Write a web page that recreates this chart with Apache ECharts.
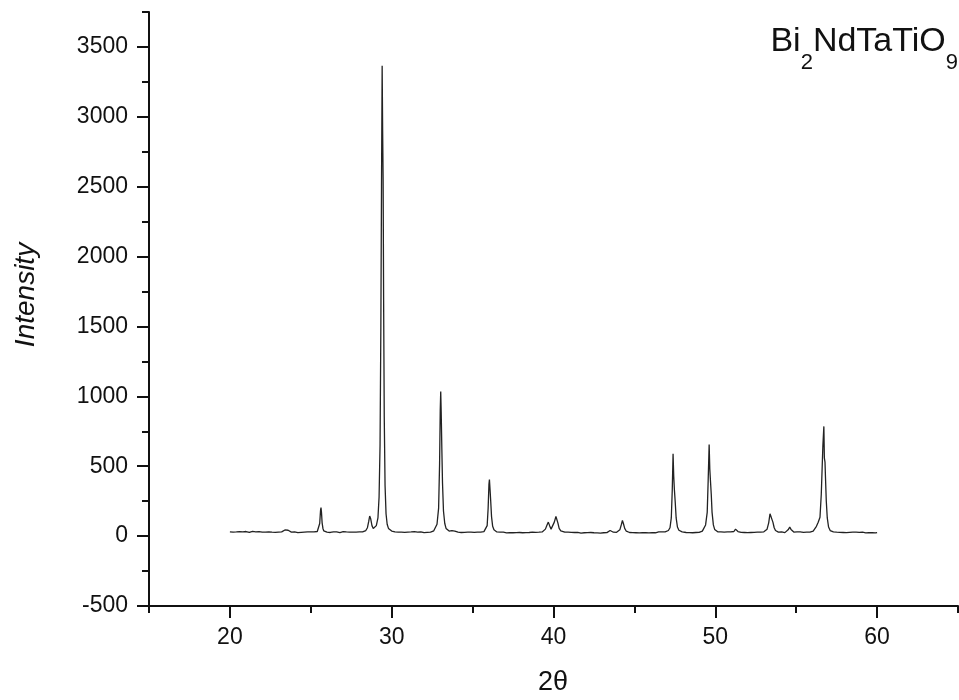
<!DOCTYPE html>
<html>
<head>
<meta charset="utf-8">
<script src="https://cdn.jsdelivr.net/npm/echarts@6/dist/echarts.min.js"></script>
<style>
html,body{margin:0;padding:0;background:#fff;}
#chart{width:959px;height:700px;}
</style>
</head>
<body>
<div id="chart"></div>
<script>
// ---- data ----
const xTickValues = [20, 30, 40, 50, 60];
const yTickValues = [-500, 0, 500, 1000, 1500, 2000, 2500, 3000, 3500];
const xAxisTitle = '2θ';
const yAxisTitle = 'Intensity';
const sampleName = ['Bi', '2', 'NdTaTiO', '9'];

// XRD scan: [2θ, intensity]
const scan = [
  [20.0,31],[20.1,34],[20.2,29],[20.3,33],[20.4,30],[20.5,27],[20.6,32],[20.7,35],[20.8,30],[20.9,28],
  [21.0,33],[21.1,31],[21.2,26],[21.3,30],[21.4,34],[21.5,29],[21.6,31],[21.7,27],[21.8,32],[21.9,30],
  [22.0,28],[22.1,33],[22.2,29],[22.3,26],[22.4,31],[22.5,34],[22.6,28],[22.7,30],[22.8,27],[22.9,31],
  [23.0,29],[23.1,33],[23.2,30],[23.3,35],[23.4,44],[23.5,57],[23.6,42],[23.7,32],[23.8,29],[23.9,27],
  [24.0,31],[24.1,28],[24.2,25],[24.3,30],[24.4,27],[24.5,32],[24.6,29],[24.7,26],[24.8,30],[24.9,28],
  [25.0,31],[25.1,27],[25.2,30],[25.3,29],[25.4,33],[25.5,45],[25.55,90],[25.6,180],[25.63,205],[25.66,170],
  [25.7,95],[25.75,55],[25.8,38],[25.9,31],
  [26.0,28],[26.1,30],[26.2,26],[26.3,29],[26.4,31],[26.5,27],[26.6,30],[26.7,28],[26.8,25],[26.9,29],
  [27.0,32],[27.1,27],[27.2,30],[27.3,26],[27.4,29],[27.5,31],[27.6,28],[27.7,33],[27.8,29],[27.9,31],
  [28.0,30],[28.1,34],[28.2,31],[28.3,36],[28.4,40],[28.5,60],[28.58,105],[28.64,144],[28.7,125],[28.78,75],
  [28.86,54],[28.95,58],[29.05,75],[29.15,130],[29.22,280],[29.28,650],[29.33,1500],[29.37,2500],[29.41,3365],[29.44,2900],
  [29.47,2550],[29.5,1700],[29.54,850],[29.59,360],[29.65,160],[29.72,85],[29.8,55],[29.9,42],
  [30.0,36],[30.1,33],[30.2,30],[30.3,33],[30.4,29],[30.5,31],[30.6,28],[30.7,30],[30.8,27],[30.9,31],
  [31.0,29],[31.1,26],[31.2,30],[31.3,28],[31.4,32],[31.5,27],[31.6,29],[31.7,26],[31.8,30],[31.9,28],
  [32.0,25],[32.1,29],[32.2,27],[32.3,31],[32.4,28],[32.5,33],[32.6,38],[32.7,50],[32.8,85],[32.9,200],
  [32.96,520],[33.0,900],[33.03,1035],[33.06,880],[33.1,620],[33.14,380],[33.2,180],[33.28,90],[33.36,55],[33.45,42],
  [33.55,36],[33.65,35],[33.72,40],[33.8,44],[33.9,36],
  [34.0,31],[34.1,28],[34.2,30],[34.3,26],[34.4,29],[34.5,27],[34.6,24],[34.7,28],[34.8,26],[34.9,29],
  [35.0,25],[35.1,27],[35.2,24],[35.3,28],[35.4,26],[35.5,29],[35.6,27],[35.7,32],[35.8,40],[35.9,75],
  [35.96,200],[36.01,370],[36.04,405],[36.08,330],[36.12,250],[36.17,140],[36.24,70],[36.32,45],[36.4,35],[36.5,30],
  [36.6,27],[36.7,29],[36.8,25],[36.9,28],
  [37.0,26],[37.1,23],[37.2,27],[37.3,25],[37.4,28],[37.5,24],[37.6,27],[37.7,25],[37.8,22],[37.9,26],
  [38.0,28],[38.1,24],[38.2,27],[38.3,25],[38.4,29],[38.5,26],[38.6,24],[38.7,28],[38.8,25],[38.9,27],
  [39.0,24],[39.1,28],[39.2,26],[39.3,30],[39.4,35],[39.5,50],[39.6,80],[39.68,100],[39.76,75],[39.85,50],
  [39.95,60],[40.05,100],[40.15,140],[40.2,135],[40.27,95],[40.35,55],[40.45,38],[40.55,32],[40.7,28],[40.8,26],
  [40.9,29],[41.0,25],[41.1,27],[41.2,24],[41.3,26],[41.4,23],[41.5,27],[41.6,25],[41.7,22],[41.8,26],
  [41.9,24],[42.0,21],[42.1,25],[42.2,23],[42.3,26],[42.4,22],[42.5,24],[42.6,27],[42.7,23],[42.8,25],
  [42.9,22],[43.0,26],[43.1,24],[43.2,27],[43.3,25],[43.4,30],[43.5,40],[43.6,36],[43.7,28],[43.8,25],
  [43.9,27],[44.0,30],[44.1,45],[44.2,85],[44.26,112],[44.32,90],[44.4,55],[44.5,35],[44.6,29],[44.7,26],
  [44.8,28],[44.9,25],[45.0,27],[45.1,24],[45.2,26],[45.3,23],[45.4,27],[45.5,25],[45.6,28],[45.7,24],
  [45.8,26],[45.9,23],[46.0,27],[46.1,25],[46.2,28],[46.3,24],[46.4,27],[46.5,30],[46.6,40],[46.7,31],
  [46.8,28],[46.9,30],[47.0,33],[47.1,40],[47.2,60],[47.28,130],[47.34,330],[47.39,590],[47.43,430],[47.47,335],
  [47.52,250],[47.58,130],[47.66,65],[47.75,42],[47.85,34],[47.95,30],[48.05,28],[48.2,26],[48.3,29],[48.4,25],
  [48.5,27],[48.6,24],[48.7,28],[48.8,26],[48.9,29],[49.0,27],[49.1,31],[49.2,36],[49.3,48],[49.4,80],
  [49.5,170],[49.56,400],[49.62,655],[49.66,480],[49.7,398],[49.75,300],[49.8,170],[49.88,80],[49.96,48],[50.05,36],
  [50.15,31],[50.25,28],[50.35,30],[50.45,26],[50.55,29],[50.65,27],[50.75,30],[50.85,28],[50.95,31],[51.05,29],
  [51.15,33],[51.25,50],[51.32,42],[51.4,33],[51.5,30],[51.6,27],[51.7,29],[51.8,26],[51.9,28],[52.0,25],
  [52.1,28],[52.2,26],[52.3,24],[52.4,27],[52.5,25],[52.6,28],[52.7,26],[52.8,29],[52.9,27],[53.0,31],
  [53.1,36],[53.2,50],[53.3,95],[53.38,160],[53.44,140],[53.5,120],[53.56,100],[53.64,60],[53.72,40],[53.8,32],
  [53.9,29],[54.0,27],[54.1,30],[54.2,27],[54.3,25],[54.4,30],[54.5,45],[54.6,64],[54.68,48],[54.75,34],
  [54.85,29],[54.95,27],[55.05,30],[55.15,28],[55.25,31],[55.35,29],[55.45,27],[55.55,30],[55.65,28],[55.75,31],
  [55.85,29],[55.95,33],[56.05,36],[56.15,45],[56.25,70],[56.36,99],[56.42,110],[56.47,135],[56.55,300],[56.65,650],
  [56.71,785],[56.74,560],[56.78,530],[56.81,420],[56.86,250],[56.92,130],[57.0,65],[57.1,40],[57.2,34],[57.3,31],
  [57.4,30],[57.5,28],[57.6,31],[57.7,27],[57.8,29],[57.9,26],[58.0,28],[58.1,25],[58.2,29],[58.3,27],
  [58.4,24],[58.5,28],[58.6,26],[58.7,29],[58.8,25],[58.9,27],[59.0,24],[59.1,28],[59.2,26],[59.3,23],
  [59.4,27],[59.5,25],[59.6,28],[59.7,24],[59.8,26],[59.9,23],[60.0,25]
];

// ---- chart ----
const FONT = '"Liberation Sans", Arial, Helvetica, sans-serif';
const INK = '#111';
const chart = echarts.init(document.getElementById('chart'), null, {renderer: 'canvas'});

const plainNumber = v => String(v);

chart.setOption({
  animation: false,
  backgroundColor: '#fff',
  grid: {left: 149, right: 1, top: 12, bottom: 94, containLabel: false},
  xAxis: [
    {
      type: 'value', min: 15, max: 65, interval: 5, position: 'bottom',
      axisLine: {show: true, onZero: false, lineStyle: {color: INK, width: 2}},
      axisTick: {show: true, inside: false, length: 12, lineStyle: {color: INK, width: 2}, customValues: xTickValues},
      axisLabel: {show: true, margin: 20, fontSize: 23, color: INK, fontFamily: FONT, customValues: xTickValues, formatter: plainNumber},
      splitLine: {show: false}
    },
    {
      type: 'value', min: 15, max: 65, interval: 5, position: 'bottom',
      axisLine: {show: false, onZero: false},
      axisTick: {show: true, inside: false, length: 7, lineStyle: {color: INK, width: 2}},
      axisLabel: {show: false},
      splitLine: {show: false}
    }
  ],
  yAxis: [
    {
      type: 'value', min: -500, max: 3750, interval: 500, position: 'left',
      axisLine: {show: true, onZero: false, lineStyle: {color: INK, width: 2}},
      axisTick: {show: true, inside: false, length: 12, lineStyle: {color: INK, width: 2}, customValues: yTickValues},
      axisLabel: {show: true, margin: 21, fontSize: 23, color: INK, fontFamily: FONT, customValues: yTickValues, formatter: plainNumber},
      splitLine: {show: false}
    },
    {
      type: 'value', min: -500, max: 3750, interval: 250, position: 'left',
      axisLine: {show: false, onZero: false},
      axisTick: {show: true, inside: false, length: 7, lineStyle: {color: INK, width: 2}},
      axisLabel: {show: false},
      splitLine: {show: false}
    }
  ],
  series: [{
    type: 'line',
    name: sampleName.join(''),
    xAxisIndex: 0, yAxisIndex: 0,
    data: scan,
    showSymbol: false, symbol: 'none',
    lineStyle: {color: '#222', width: 1.3},
    emphasis: {disabled: true}
  }],
  graphic: [
    {
      type: 'text', right: 1, top: 25,
      style: {
        text: '{b|' + sampleName[0] + '}{s|' + sampleName[1] + '}{b|' + sampleName[2] + '}{s|' + sampleName[3] + '}',
        rich: {
          b: {fontSize: 34, fontFamily: FONT, fill: INK, lineHeight: 34, verticalAlign: 'top'},
          s: {fontSize: 22, fontFamily: FONT, fill: INK, lineHeight: 49, verticalAlign: 'bottom'}
        }
      }
    },
    {
      type: 'text', x: 553, y: 683,
      style: {text: xAxisTitle, fontSize: 27, fontFamily: FONT, fill: INK, textAlign: 'center', textVerticalAlign: 'middle'}
    },
    {
      type: 'text', x: 26, y: 295, rotation: Math.PI / 2,
      style: {text: yAxisTitle, fontSize: 28, fontStyle: 'italic', fontFamily: FONT, fill: INK, textAlign: 'center', textVerticalAlign: 'middle'}
    }
  ]
});
</script>
</body>
</html>
